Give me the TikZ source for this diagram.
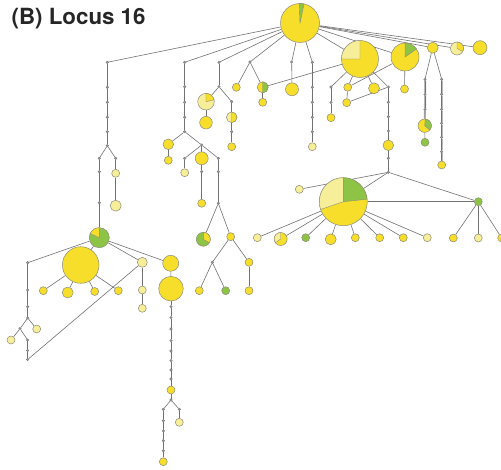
\documentclass[tikz,border=0pt]{standalone}
\usepackage{fontspec}
\setmainfont{TeX Gyre Heros}
\usetikzlibrary{backgrounds}

\definecolor{yel}{HTML}{F6DE2A}
\definecolor{lyel}{HTML}{F6EE98}
\definecolor{grn}{HTML}{8DC446}
\definecolor{ring}{HTML}{8E8C7A}
\definecolor{wire}{HTML}{727272}
\definecolor{dotc}{HTML}{9A9A9A}

\tikzset{
  hap/.style={circle, inner sep=0pt, draw=ring, line width=0.5pt, minimum size=#1},
  hy/.style={hap=#1, fill=yel},
  hl/.style={hap=#1, fill=lyel},
  hg/.style={hap=#1, fill=grn},
  mv/.style={circle, inner sep=0pt, minimum size=2.6pt, fill=dotc, draw=wire, line width=0.3pt},
  link/.style={draw=wire, line width=0.6pt},
  band/.style={draw=black!28, line width=2pt},
}

% pie slice on a haplotype: node, start angle, end angle, radius, colour
\newcommand\slice[5]{%
  \fill[#5, draw=ring, line width=0.4pt] (#1.center) -- ++({-(#2)}:#4)
    arc[start angle={-(#2)}, end angle={-(#3)}, radius=#4] -- cycle;}

\begin{document}
\begin{tikzpicture}[x=1pt, y=-1pt]
\useasboundingbox (0,0) rectangle (501,470);

\node[anchor=base west, inner sep=0pt, text=black!85,
      font=\bfseries\fontsize{22.3}{26}\selectfont] (title) at (11.5,25) {(B) Locus 16};

% ---- root and its right-hand neighbours
\node[hy=39pt] (R) at (300,23) {};
\node[hy=37pt] (P2) at (360,59) {};
\node[hy=28pt] (P3) at (405,57) {};
\node[hy=11pt] (A1) at (432.7,47.7) {};
\node[hl=13pt] (A2) at (457,48.5) {};
\node[hy=14pt] (A3) at (480,47.7) {};

% ---- directly under the root
\node[mv] (m1) at (291.7,62) {};
\node[hy=13pt] (B1) at (292,89.3) {};
\node[mv] (m2) at (312.3,62.3) {};
\node[mv] (m2a) at (312.3,87.3) {};
\node[mv] (m2b) at (312.3,102.3) {};
\node[mv] (m2c) at (312.3,117.3) {};
\node[mv] (m2d) at (312.3,131.7) {};
\node[hl=8pt] (B2) at (312.3,146.7) {};

\node[mv] (m3) at (250,62) {};
\node[hy=8pt] (B3) at (236.3,87.3) {};
\node[hy=11pt] (B4) at (262.7,87.3) {};
\node[hy=8pt] (B5) at (262.7,102.3) {};

\node[mv] (m4) at (219,62.3) {};
\node[mv] (m4a) at (219,86.7) {};
\node[hl=16.6pt] (B6) at (206,101.7) {};
\node[hy=12.6pt] (B7) at (206,122.7) {};
\node[mv] (m4b) at (231.7,101.7) {};
\node[hl=10.6pt] (B8) at (231.7,117.3) {};
\node[mv] (m4c) at (231.7,131.7) {};
\node[hy=8pt] (B9) at (231.7,146.7) {};

% ---- middle-left branch
\node[mv] (m5) at (184.7,62.3) {};
\node[mv] (m5a) at (184.7,86.7) {};
\node[mv] (m5b) at (184.7,102.3) {};
\node[mv] (m5c) at (184.7,117.3) {};
\node[mv] (m5d) at (184.7,131.7) {};
\node[hy=10.6pt] (C1) at (168.3,144.3) {};
\node[hy=8pt] (C2) at (168.3,160.3) {};
\node[mv] (m5e) at (201.7,145) {};
\node[mv] (m5f) at (184.7,158.3) {};
\node[hl=8pt] (C3) at (184.7,172.7) {};
\node[hy=13pt] (C4) at (201.7,158.3) {};
\node[mv] (m5g) at (201.7,171.7) {};
\node[hy=8pt] (C5) at (201.7,203.3) {};
\node[mv] (m5h) at (218.3,158.3) {};
\node[mv] (m5i) at (218.3,171.7) {};
\node[mv] (m5j) at (218.3,203.3) {};
\node[hg=14pt] (C6) at (203.3,239.3) {};
\node[hy=8pt] (C7) at (230.7,236.7) {};
\node[mv] (m5k) at (212.3,262.3) {};
\node[hy=8pt] (C8) at (199.3,290.7) {};
\node[hg=8pt] (C9) at (225.7,290.7) {};
\node[hy=8pt] (C10) at (249,262.3) {};
\node[hy=8pt] (C11) at (249,290.7) {};

% ---- far-left branch
\node[mv] (m6) at (107.3,62.3) {};
\node[mv] (m6a) at (107.3,87.3) {};
\node[mv] (m6b) at (107.3,102.3) {};
\node[mv] (m6c) at (107.3,117.3) {};
\node[mv] (m6d) at (107.3,131.7) {};
\node[mv] (m6e) at (107.3,145.7) {};
\node[mv] (m6f) at (99.3,158.3) {};
\node[mv] (m6g) at (99.3,171.7) {};
\node[mv] (m6h) at (99.3,202.7) {};
\node[hg=20pt] (D1) at (99.3,237.7) {};
\node[mv] (m6i) at (115.7,158.3) {};
\node[hl=8pt] (D2) at (115.7,173.3) {};
\node[hl=11pt] (D3) at (115.7,205.7) {};
\node[hy=36.6pt] (D4) at (80.7,265) {};
\node[hl=10pt] (D5) at (142.3,262.3) {};
\node[hy=16pt] (D6) at (170.7,263.3) {};
\node[hy=8pt] (D7) at (43.3,290.7) {};
\node[hy=11pt] (D8) at (67.7,292.5) {};
\node[hy=8pt] (D9) at (94.7,291.5) {};
\node[hy=8pt] (D10) at (118.3,290.7) {};
\node[hl=8pt] (D11) at (142.3,290) {};
\node[hl=8pt] (D12) at (142.3,308.3) {};
\node[hy=24.6pt] (D13) at (171,288.7) {};

\node[mv] (n1) at (27.7,262.7) {};
\node[mv] (n2) at (27.7,290) {};
\node[mv] (n3) at (27.7,306.7) {};
\node[mv] (n4) at (27.7,318) {};
\node[hl=8pt] (E1) at (36.7,329) {};
\node[mv] (n5) at (20,328.7) {};
\node[hl=8pt] (E2) at (11,340) {};
\node[mv] (n6) at (27.7,340) {};
\node[mv] (n7) at (27.7,350.5) {};
\node[mv] (n8) at (27.7,359.5) {};

\foreach \i/\yy in {1/306.7,2/317.7,3/329,4/340.7,5/351,6/360.7,7/370,8/379}
  \node[mv] (q\i) at (171,\yy) {};
\node[hy=8pt] (F1) at (171,390) {};
\node[mv] (q9) at (171,400) {};
\foreach \i/\yy in {10/409.3,11/420.7,12/431,13/440.7,14/450.7}
  \node[mv] (q\i) at (163.3,\yy) {};
\node[hy=8pt] (F2) at (163.3,461.7) {};
\node[mv] (q15) at (179.3,409.3) {};
\node[hl=8pt] (F3) at (179.3,422.3) {};

% ---- under the second pie
\node[mv] (s1) at (331,87) {};
\node[mv] (s2) at (331,102.3) {};
\node[hy=8pt] (G1) at (331,117.7) {};
\node[hy=8pt] (G2) at (347.7,87.3) {};
\node[hy=8pt] (G3) at (346.7,102.7) {};
\node[hy=11pt] (G4) at (374,88.3) {};
\node[mv] (s3) at (388.3,87) {};
\node[mv] (s4) at (388.3,102.3) {};
\node[mv] (s5) at (388.3,116.7) {};
\node[mv] (s6) at (388.3,131) {};
\node[hy=10.6pt] (G5) at (388.3,145.3) {};
\node[mv] (s7) at (388.3,158.3) {};
\node[mv] (s8) at (388.3,172.3) {};
\node[hy=8pt] (G6) at (404.5,89) {};

% ---- right-hand chains
\node[mv] (t1) at (425,79.3) {};
\node[mv] (t2) at (425,94.3) {};
\node[mv] (t3) at (425,109.3) {};
\node[hy=13.4pt] (H1) at (424.7,125.7) {};
\node[hg=8pt] (H2) at (425,142.3) {};
\foreach \i/\yy in {4/79.3,5/94.3,6/109.3,7/123.3,8/137.3,9/151.7}
  \node[mv] (t\i) at (441.7,\yy) {};
\node[hy=8pt] (H3) at (441.7,165) {};

% ---- three-colour pie and its star
\node[hy=48pt] (K) at (343.3,201.7) {};
\node[hl=8pt] (K0) at (299.3,189.3) {};
\node[hg=8pt] (K9) at (478.3,201.7) {};
\node[hl=8pt] (K1) at (257.3,237.7) {};
\node[hy=13pt] (K2) at (280.7,239) {};
\node[hg=8pt] (K3) at (305.7,237.7) {};
\node[hy=11pt] (K4) at (330.7,239.3) {};
\node[hy=8pt] (K5) at (355.3,237.7) {};
\node[hy=8pt] (K6) at (379.7,237.7) {};
\node[hy=8pt] (K7) at (403.3,237.7) {};
\node[hl=8pt] (K8) at (427.3,237.7) {};
\node[hy=8pt] (K10) at (453.3,238) {};
\node[hl=8pt] (K11) at (478.3,238) {};
\node[hy=8pt] (K12) at (501.7,238) {};

% ---- pie slices
\slice{R}{78}{92}{19.5}{grn}
\slice{P2}{90}{180}{18.5}{lyel}
\slice{P3}{35}{90}{14}{grn}
\slice{A2}{-27}{90}{6.5}{yel}
\slice{B4}{-90}{90}{5.5}{grn}
\slice{B6}{13}{90}{8.3}{yel}
\slice{B8}{-90}{90}{5.3}{yel}
\slice{C6}{-30}{90}{7}{yel}
\slice{D1}{90}{155}{10}{yel}
\slice{H1}{-40}{85}{6.7}{grn}
\slice{K}{6}{90}{24}{grn}
\slice{K}{90}{199}{24}{lyel}
\slice{K2}{90}{215}{6.5}{lyel}

% ---- connectors
\begin{scope}[on background layer]
  \draw[band] (t1) -- (t2) -- (t3) -- (H1);
  \draw[band] (t4) -- (t5) -- (t6) -- (t7) -- (t8) -- (t9) -- (H3);
  \foreach \a/\b in {R/P3,R/A1,R/A2,R/A3,R/P2,R/m1,R/m2,R/m3,R/m4,R/m5,R/m6,
      m1/B1,m2/m2a,m2a/m2b,m2b/m2c,m2c/m2d,m2d/B2,
      m3/B3,m3/B4,B4/B5,B4/P2,
      m4/m4a,m4a/B6,B6/B7,m4a/m4b,m4b/B8,B8/m4c,m4c/B9,
      m5/m5a,m5a/m5b,m5b/m5c,m5c/m5d,m5d/C1,C1/C2,m5d/m5e,m5e/m5f,m5f/C3,
      m5e/C4,C4/m5g,m5g/C5,m5e/m5h,m5h/m5i,m5i/m5j,m5j/C6,m5j/C7,
      C7/m5k,m5k/C8,m5k/C9,C7/C10,C10/C11,
      m6/m6a,m6a/m6b,m6b/m6c,m6c/m6d,m6d/m6e,m6e/m6f,m6f/m6g,m6g/m6h,m6h/D1,
      m6e/m6i,m6i/D2,D2/D3,
      D1/D4,D1/n1,D1/D5,D1/D6,D4/D7,D4/D8,D4/D9,D4/D10,D5/D11,D11/D12,D5/n8,
      n1/n2,n2/n3,n3/n4,n4/E1,n4/n5,n5/E2,n5/n6,n6/n7,n7/n8,
      D6/D13,D13/q1,q1/q2,q2/q3,q3/q4,q4/q5,q5/q6,q6/q7,q7/q8,q8/F1,F1/q9,
      q9/q10,q10/q11,q11/q12,q12/q13,q13/q14,q14/F2,q9/q15,q15/F3,
      P2/s1,s1/s2,s2/G1,P2/G2,P3/G2,G2/G3,P2/G4,P2/s3,s3/G3,
      s3/s4,s4/s5,s5/s6,s6/G5,G5/s7,s7/s8,P3/G6,
      A1/t1,t1/t2,t2/t3,t3/H1,H1/H2,A1/t4,t4/t5,t5/t6,t6/t7,t7/t8,t8/t9,t9/H3,
      s8/K,s8/K0,s8/K9,K/K9,
      K/K1,K/K2,K/K3,K/K4,K/K5,K/K6,K/K7,K/K8,K9/K10,K9/K11,K9/K12}
    \draw[link] (\a) -- (\b);
\end{scope}
\end{tikzpicture}
\end{document}
